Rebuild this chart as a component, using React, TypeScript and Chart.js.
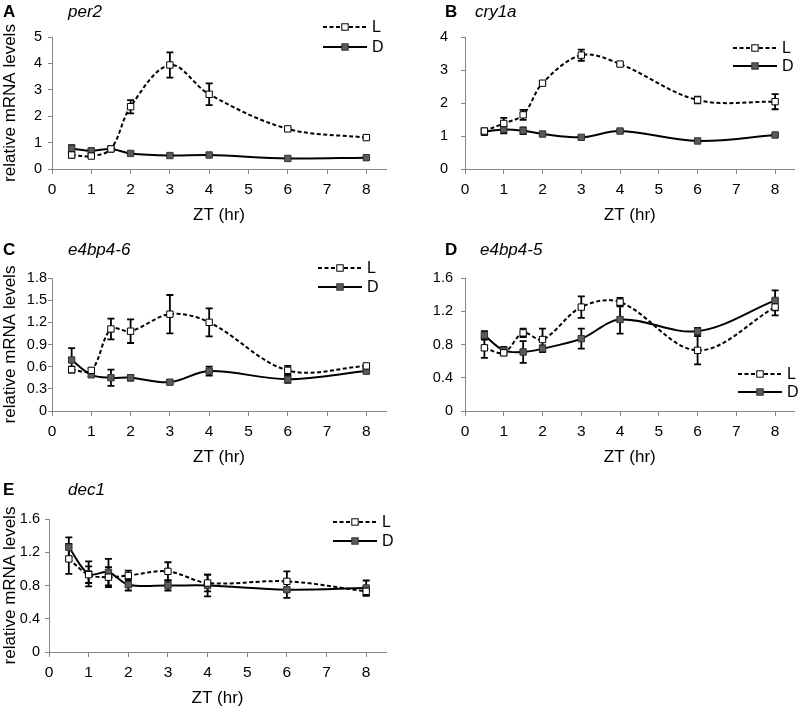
import React, { useEffect, useRef } from "react";
import { Chart, registerables } from "chart.js";

Chart.register(...registerables);

const FONT = "'Liberation Sans', Arial, Helvetica, sans-serif";
Chart.defaults.font.family = FONT;

// ---------------- data ----------------
const zt = [0.5, 1, 1.5, 2, 3, 4, 6, 8];
const seriesLabels = ["L", "D"];
const xTitle = "ZT (hr)";
const yTitle = "relative mRNA levels";

// per2
const per2L = [0.53, 0.49, 0.76, 2.36, 3.94, 2.83, 1.52, 1.19];
const per2LErr = [0.1, 0.05, 0.05, 0.25, 0.48, 0.41, 0.05, 0.05];
const per2D = [0.78, 0.69, 0.76, 0.59, 0.51, 0.53, 0.4, 0.43];
const per2DErr = [0.12, 0.07, 0.06, 0.04, 0.03, 0.03, 0.03, 0.03];

// cry1a
const cry1aL = [1.15, 1.38, 1.64, 2.6, 3.45, 3.18, 2.09, 2.04];
const cry1aLErr = [0.06, 0.17, 0.15, 0.04, 0.17, 0.04, 0.1, 0.23];
const cry1aD = [1.13, 1.2, 1.16, 1.06, 0.96, 1.15, 0.85, 1.03];
const cry1aDErr = [0.1, 0.12, 0.1, 0.04, 0.04, 0.04, 0.03, 0.03];

// e4bp4-6
const e6L = [0.56, 0.55, 1.11, 1.08, 1.31, 1.2, 0.55, 0.61];
const e6LErr = [0.04, 0.03, 0.14, 0.16, 0.26, 0.19, 0.06, 0.02];
const e6D = [0.69, 0.49, 0.45, 0.45, 0.39, 0.54, 0.43, 0.54];
const e6DErr = [0.16, 0.03, 0.11, 0.04, 0.02, 0.06, 0.05, 0.03];

// e4bp4-5
const e5L = [0.76, 0.7, 0.94, 0.86, 1.25, 1.31, 0.73, 1.25];
const e5LErr = [0.12, 0.03, 0.05, 0.13, 0.13, 0.05, 0.17, 0.1];
const e5D = [0.91, 0.73, 0.71, 0.75, 0.87, 1.1, 0.96, 1.33];
const e5DErr = [0.05, 0.04, 0.13, 0.04, 0.12, 0.17, 0.04, 0.12];

// dec1
const dec1L = [1.12, 0.93, 0.9, 0.92, 0.97, 0.83, 0.85, 0.73];
const dec1LErr = [0.18, 0.1, 0.12, 0.06, 0.11, 0.1, 0.12, 0.05];
const dec1D = [1.26, 0.94, 0.96, 0.81, 0.8, 0.8, 0.75, 0.77];
const dec1DErr = [0.12, 0.15, 0.16, 0.07, 0.06, 0.13, 0.1, 0.09];

// ---------------- layout ----------------
type PanelDef = {
  letter: string;
  gene: string;
  L: number[];
  LErr: number[];
  D: number[];
  DErr: number[];
  yMax: number;
  yStep: number;
  showYTitle: boolean;
  box: [number, number, number, number]; // left, top, width, height
  area: [number, number, number, number]; // left, top, right, bottom
  yPad: number;
  head: [number, number, number]; // letter x, gene x, y
  legend: [number, number, number]; // line x, L y, D y
};

const panels: PanelDef[] = [
  {
    letter: "A", gene: "per2", L: per2L, LErr: per2LErr, D: per2D, DErr: per2DErr,
    yMax: 5, yStep: 1, showYTitle: true,
    box: [0, 0, 400, 230], area: [52, 37, 386, 169], yPad: 6,
    head: [3, 68, 12], legend: [323, 27, 47],
  },
  {
    letter: "B", gene: "cry1a", L: cry1aL, LErr: cry1aLErr, D: cry1aD, DErr: cry1aDErr,
    yMax: 4, yStep: 1, showYTitle: false,
    box: [400, 0, 400, 230], area: [465, 37, 797, 169], yPad: 13,
    head: [445, 475, 12], legend: [733, 48, 66],
  },
  {
    letter: "C", gene: "e4bp4-6", L: e6L, LErr: e6LErr, D: e6D, DErr: e6DErr,
    yMax: 1.8, yStep: 0.3, showYTitle: true,
    box: [0, 230, 400, 240], area: [52, 278, 386, 411], yPad: 1,
    head: [3, 68, 250], legend: [318, 268, 287],
  },
  {
    letter: "D", gene: "e4bp4-5", L: e5L, LErr: e5LErr, D: e5D, DErr: e5DErr,
    yMax: 1.6, yStep: 0.4, showYTitle: false,
    box: [400, 230, 400, 240], area: [465, 278, 797, 411], yPad: 8,
    head: [445, 480, 250], legend: [738, 374, 392],
  },
  {
    letter: "E", gene: "dec1", L: dec1L, LErr: dec1LErr, D: dec1D, DErr: dec1DErr,
    yMax: 1.6, yStep: 0.4, showYTitle: true,
    box: [0, 470, 400, 242], area: [49, 519, 386, 652], yPad: 5,
    head: [3, 68, 490], legend: [333, 522, 541],
  },
];

const AXIS_GRAY = "#868686";
const D_FILL = "#5b5b5b";
const X_SCALE_H = 57;
const MARK = 6.4;

function drawMarker(ctx: CanvasRenderingContext2D, x: number, y: number, fill: string, stroke: string) {
  ctx.save();
  ctx.setLineDash([]);
  ctx.fillStyle = fill;
  ctx.strokeStyle = stroke;
  ctx.lineWidth = 1;
  ctx.fillRect(x - MARK / 2, y - MARK / 2, MARK, MARK);
  ctx.strokeRect(x - MARK / 2, y - MARK / 2, MARK, MARK);
  ctx.restore();
}

function Panel({ p }: { p: PanelDef }) {
  const ref = useRef<HTMLCanvasElement | null>(null);

  useEffect(() => {
    const canvas = ref.current;
    if (!canvas) return;
    const [ox, oy, w, h] = p.box;
    const [al, at, ar, ab] = p.area;

    const errors = [p.LErr, p.DErr];

    const errPlugin = {
      id: "errbars",
      beforeDatasetsDraw(chart: any) {
        const ctx = chart.ctx as CanvasRenderingContext2D;
        const xs = chart.scales.x;
        const ys = chart.scales.y;
        ctx.save();
        ctx.strokeStyle = "#000";
        ctx.lineWidth = 1.8;
        ctx.setLineDash([]);
        chart.data.datasets.forEach((ds: any, di: number) => {
          ds.data.forEach((pt: any, i: number) => {
            const e = errors[di][i];
            const px = xs.getPixelForValue(pt.x);
            const y1 = ys.getPixelForValue(pt.y + e);
            const y2 = ys.getPixelForValue(pt.y - e);
            ctx.beginPath();
            ctx.moveTo(px, y1);
            ctx.lineTo(px, y2);
            ctx.moveTo(px - 3.5, y1);
            ctx.lineTo(px + 3.5, y1);
            ctx.moveTo(px - 3.5, y2);
            ctx.lineTo(px + 3.5, y2);
            ctx.stroke();
          });
        });
        ctx.restore();
      },
    };

    const decoPlugin = {
      id: "deco",
      afterDraw(chart: any) {
        const ctx = chart.ctx as CanvasRenderingContext2D;
        ctx.save();
        ctx.fillStyle = "#000";
        ctx.textBaseline = "middle";
        ctx.textAlign = "left";
        ctx.font = `bold 17px ${FONT}`;
        ctx.fillText(p.letter, p.head[0] - ox, p.head[2] - oy);
        ctx.font = `italic 17px ${FONT}`;
        ctx.fillText(p.gene, p.head[1] - ox, p.head[2] - oy);

        // legend
        const lx = p.legend[0] - ox;
        const len = 44;
        const rows = [
          { y: p.legend[1] - oy, dash: [4, 2.5], fill: "#fff", stroke: "#000" },
          { y: p.legend[2] - oy, dash: [], fill: D_FILL, stroke: "#333" },
        ];
        rows.forEach((r, i) => {
          ctx.strokeStyle = "#000";
          ctx.lineWidth = 2;
          ctx.setLineDash(r.dash);
          ctx.beginPath();
          ctx.moveTo(lx, r.y);
          ctx.lineTo(lx + len, r.y);
          ctx.stroke();
          drawMarker(ctx, lx + len / 2, r.y, r.fill, r.stroke);
          ctx.setLineDash([]);
          ctx.fillStyle = "#000";
          ctx.font = `16px ${FONT}`;
          ctx.fillText(seriesLabels[i], lx + len + 5, r.y + 1);
        });
        ctx.restore();
      },
    };

    const fmt = (v: any) => String(Math.round(Number(v) * 10) / 10);

    const chart = new Chart(canvas, {
      type: "line",
      data: {
        datasets: [
          {
            label: seriesLabels[0],
            data: zt.map((x, i) => ({ x, y: p.L[i] })),
            borderColor: "#000",
            borderWidth: 2,
            borderDash: [4, 2.5],
            tension: 0.35,
            pointStyle: "rect",
            pointRadius: 4.5,
            pointBackgroundColor: "#fff",
            pointBorderColor: "#000",
            pointBorderWidth: 1,
            fill: false,
          },
          {
            label: seriesLabels[1],
            data: zt.map((x, i) => ({ x, y: p.D[i] })),
            borderColor: "#000",
            borderWidth: 2,
            tension: 0.35,
            pointStyle: "rect",
            pointRadius: 4.5,
            pointBackgroundColor: D_FILL,
            pointBorderColor: "#333",
            pointBorderWidth: 1,
            fill: false,
          },
        ],
      },
      options: {
        responsive: false,
        animation: false,
        events: [],
        layout: {
          padding: {
            left: 0,
            top: at - oy,
            right: ox + w - ar,
            bottom: oy + h - ab - X_SCALE_H,
          },
        },
        plugins: {
          legend: { display: false },
          tooltip: { enabled: false },
          title: { display: false },
        },
        scales: {
          x: {
            type: "linear",
            min: 0,
            max: 8.5,
            afterFit: (s: any) => {
              s.height = X_SCALE_H;
            },
            ticks: {
              stepSize: 1,
              includeBounds: false,
              color: "#000",
              font: { size: 15.5 },
              padding: 6,
              maxRotation: 0,
              autoSkip: false,
            },
            grid: {
              drawOnChartArea: false,
              drawTicks: true,
              tickLength: 5,
              color: AXIS_GRAY,
            },
            border: { display: true, color: AXIS_GRAY, width: 1 },
            title: {
              display: true,
              text: xTitle,
              color: "#000",
              font: { size: 17 },
              padding: 0,
            },
          },
          y: {
            type: "linear",
            min: 0,
            max: p.yMax,
            afterFit: (s: any) => {
              s.width = al - ox;
            },
            ticks: {
              stepSize: p.yStep,
              color: "#000",
              font: { size: 14.5 },
              padding: p.yPad,
              callback: fmt,
            },
            grid: {
              drawOnChartArea: false,
              drawTicks: true,
              tickLength: 4,
              color: AXIS_GRAY,
            },
            border: { display: true, color: AXIS_GRAY, width: 1 },
            title: {
              display: p.showYTitle,
              text: yTitle,
              color: "#000",
              font: { size: 17 },
              padding: 0,
            },
          },
        },
      },
      plugins: [errPlugin, decoPlugin],
    } as any);

    return () => chart.destroy();
  }, [p]);

  const [l, t, w, h] = p.box;
  return (
    <canvas
      ref={ref}
      width={w}
      height={h}
      style={{ position: "absolute", left: l, top: t, width: w, height: h }}
    />
  );
}

export default function App() {
  return (
    <div
      style={{
        position: "absolute",
        left: 0,
        top: 0,
        width: 800,
        height: 712,
        background: "#fff",
        overflow: "hidden",
      }}
    >
      {panels.map((p) => (
        <Panel key={p.letter} p={p} />
      ))}
    </div>
  );
}
